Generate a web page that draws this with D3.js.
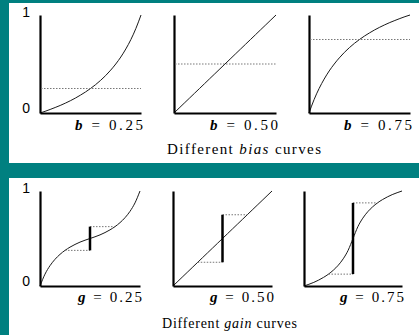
<!DOCTYPE html>
<html>
<head>
<meta charset="utf-8">
<script src="https://cdn.jsdelivr.net/npm/d3@7"></script>
<style>
  body { margin: 0; background: #008080; }
  svg { display: block; }
</style>
</head>
<body>
<div id="chart"></div>
<script>
// x samples shared by every curve
var xs = [0, .05, .1, .15, .2, .25, .3, .35, .4, .45, .5, .55, .6, .65, .7, .75, .8, .85, .9, .95, 1];

// bias curves
var biasParams = [0.25, 0.50, 0.75];
var biasCurves = [
    [0, .017, .036, .056, .077, .10, .125, .152, .182, .214, .25, .289, .333, .382, .4375, .50, .571, .654, .75, .864, 1],
    [0, .05, .1, .15, .2, .25, .3, .35, .4, .45, .5, .55, .6, .65, .7, .75, .8, .85, .9, .95, 1],
    [0, .136, .25, .346, .429, .50, .5625, .618, .667, .711, .75, .786, .818, .848, .875, .90, .923, .944, .964, .983, 1]
];
var biasLevels = [0.25, 0.50, 0.75];

// gain curves
var gainParams = [0.25, 0.50, 0.75];
var gainCurves = [
    [0, .125, .214, .281, .333, .375, .409, .4375, .462, .482, .5, .518, .538, .5625, .591, .625, .667, .719, .786, .875, 1],
    [0, .05, .1, .15, .2, .25, .3, .35, .4, .45, .5, .55, .6, .65, .7, .75, .8, .85, .9, .95, 1],
    [0, .018, .038, .0625, .091, .125, .167, .219, .286, .375, .5, .625, .714, .781, .833, .875, .909, .9375, .962, .982, 1]
];
var gainLow = [0.375, 0.25, 0.125];
var gainHigh = [0.625, 0.75, 0.875];
var gainX = [0.25, 0.5, 0.75];

var yTicks = [0, 1];

var width = 419, height = 335;

var svg = d3.select("#chart").append("svg")
    .attr("width", width)
    .attr("height", height);

// white panels on teal
svg.append("rect").attr("x", 9).attr("y", 3).attr("width", width - 9).attr("height", 160).attr("fill", "#fff");
svg.append("rect").attr("x", 9).attr("y", 178).attr("width", width - 9).attr("height", height - 178).attr("fill", "#fff");

var topPanels = [[40, 141], [174, 276], [309, 410]];
var bottomPanels = [[40, 140], [173, 272], [304, 402]];

function drawPanel(xr, yr, values, showY) {
    var x = d3.scaleLinear().domain([0, 1]).range(xr);
    var y = d3.scaleLinear().domain([0, 1]).range(yr);
    var g = svg.append("g");

    var line = d3.line().curve(d3.curveMonotoneX)
        .x(function (d, i) { return x(xs[i]); })
        .y(function (d) { return y(d); });

    g.append("path")
        .attr("d", line(values))
        .attr("fill", "none")
        .attr("stroke", "#1a1a1a")
        .attr("stroke-width", 1);

    var xa = g.append("g")
        .attr("transform", "translate(0," + yr[0] + ")")
        .call(d3.axisBottom(x).tickValues([]).tickSizeOuter(0));
    xa.select(".domain").attr("stroke", "#000").attr("stroke-width", 2);

    var ya = g.append("g")
        .attr("transform", "translate(" + xr[0] + ",0)")
        .call(d3.axisLeft(y).tickValues(showY ? yTicks : []).tickFormat(d3.format("d"))
            .tickSize(0).tickSizeOuter(0).tickPadding(10));
    ya.select(".domain").attr("stroke", "#000").attr("stroke-width", 2.2);
    ya.selectAll("text")
        .attr("font-family", "Liberation Sans, Arial, sans-serif")
        .attr("font-size", 14)
        .attr("fill", "#000")
        .attr("dy", function (d) { return d === 0 ? "-0.05em" : "0.1em"; });

    return {g: g, x: x, y: y};
}

function label(xEnd, yBase, sym, val, len) {
    var t = svg.append("text")
        .attr("x", xEnd)
        .attr("y", yBase)
        .attr("text-anchor", "end")
        .attr("font-family", "Liberation Serif, Times New Roman, serif")
        .attr("font-size", 15)
        .attr("textLength", len)
        .attr("lengthAdjust", "spacing");
    t.append("tspan").attr("font-weight", "bold").attr("font-style", "italic").text(sym);
    t.append("tspan").text(" = " + val.toFixed(2));
}

function title(xStart, yBase, word, len, size) {
    var t = svg.append("text")
        .attr("x", xStart)
        .attr("y", yBase)
        .attr("font-family", "Liberation Serif, Times New Roman, serif")
        .attr("font-size", size)
        .attr("textLength", len)
        .attr("lengthAdjust", "spacing");
    t.append("tspan").text("Different ");
    t.append("tspan").attr("font-style", "italic").text(word);
    t.append("tspan").text(" curves");
}

// top row: bias
biasCurves.forEach(function (vals, i) {
    var p = drawPanel(topPanels[i], [113, 15], vals, i === 0);
    p.g.append("line")
        .attr("x1", p.x(0.01)).attr("x2", p.x(1))
        .attr("y1", p.y(biasLevels[i])).attr("y2", p.y(biasLevels[i]))
        .attr("stroke", "#777")
        .attr("stroke-width", 1)
        .attr("stroke-dasharray", "1.5,1.5");
    label(topPanels[i][1] + 2, 130, "b", biasParams[i], 68);
});
title(167, 154, "bias", 154, 15);

// bottom row: gain
gainCurves.forEach(function (vals, i) {
    var p = drawPanel(bottomPanels[i], [286, 191], vals, i === 0);
    var dashColor = "#777";
    p.g.append("line")
        .attr("x1", p.x(gainX[0])).attr("x2", p.x(gainX[1]))
        .attr("y1", p.y(gainLow[i])).attr("y2", p.y(gainLow[i]))
        .attr("stroke", dashColor).attr("stroke-width", 1)
        .attr("stroke-dasharray", "1.5,1.5");
    p.g.append("line")
        .attr("x1", p.x(gainX[1])).attr("x2", p.x(gainX[2]))
        .attr("y1", p.y(gainHigh[i])).attr("y2", p.y(gainHigh[i]))
        .attr("stroke", dashColor).attr("stroke-width", 1)
        .attr("stroke-dasharray", "1.5,1.5");
    p.g.append("line")
        .attr("x1", p.x(gainX[1])).attr("x2", p.x(gainX[1]))
        .attr("y1", p.y(gainLow[i])).attr("y2", p.y(gainHigh[i]))
        .attr("stroke", "#000")
        .attr("stroke-width", 2.5);
    label(bottomPanels[i][1] + 2, 302, "g", gainParams[i], 64);
});
title(162, 328, "gain", 135, 14);
</script>
</body>
</html>
